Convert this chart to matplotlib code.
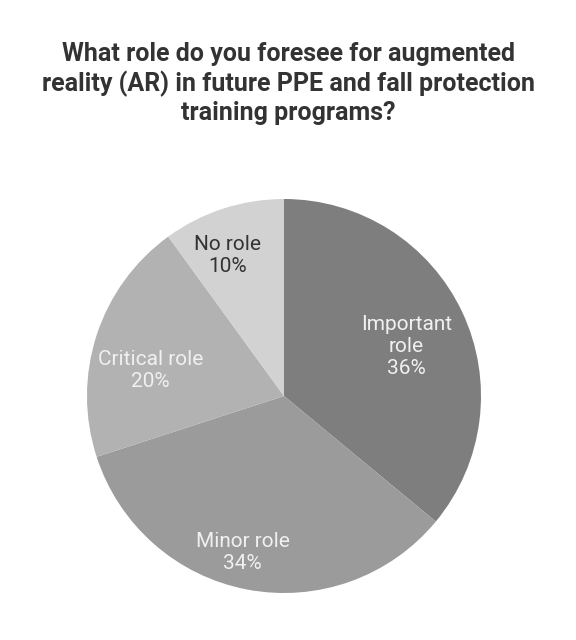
import matplotlib
matplotlib.use("Agg")
import matplotlib.pyplot as plt
import numpy as np

plt.rcParams['font.family'] = ['Roboto', 'DejaVu Sans']

title = "What role do you foresee for augmented\nreality (AR) in future PPE and fall protection\ntraining programs?"
categories = ["Important\nrole", "Minor role", "Critical role", "No role"]
values = [36, 34, 20, 10]
colors = ["#7e7e7e", "#9b9b9b", "#b2b2b2", "#d2d2d2"]
text_colors = ["#f0f0f0", "#f0f0f0", "#f0f0f0", "#333333"]
label_r = [0.67, 0.82, 0.69, 0.77]
angle_adj = [-3, -4, 7, 4]

fig = plt.figure(figsize=(5.76, 6.4), dpi=100)
fig.patch.set_facecolor("white")

fig.text(0.5, 0.934, title, ha="center", va="top", fontsize=18,
         fontweight="bold", color="#333333", linespacing=1.22)

r_px = 197
cx, cy = 284, 396
W, H = 576, 640
ax = fig.add_axes([(cx - r_px) / W, (H - cy - r_px) / H, 2 * r_px / W, 2 * r_px / H])
wedges, _ = ax.pie(values, colors=colors, startangle=90, counterclock=False,
                   wedgeprops=dict(linewidth=0))
ax.set_aspect("equal")
ax.set_xlim(-1, 1)
ax.set_ylim(-1, 1)
ax.axis("off")

for w, cat, v, tc, lr, da in zip(wedges, categories, values, text_colors, label_r, angle_adj):
    ang = np.deg2rad((w.theta1 + w.theta2) / 2 + da)
    ax.text(lr * np.cos(ang), lr * np.sin(ang), f"{cat}\n{v}%", ha="center", va="center",
            fontsize=15, color=tc, linespacing=1.2)

fig.savefig("out.png", dpi=100, facecolor="white")
